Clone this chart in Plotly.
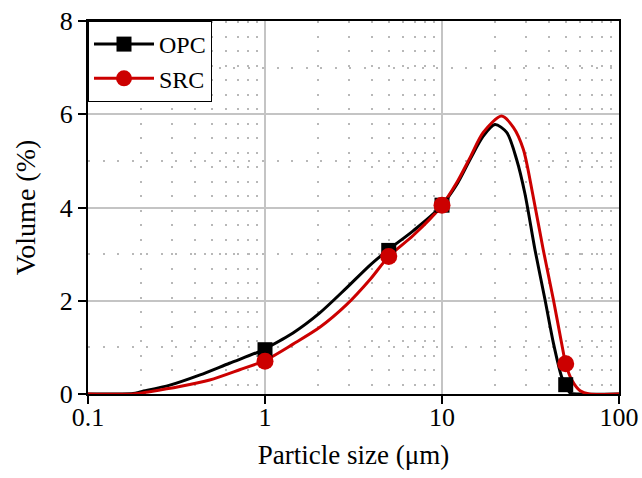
import plotly.graph_objects as go

# OPC curve
opc_x = [0.1, 0.15, 0.18, 0.2, 0.29, 0.43, 0.63, 0.93, 1.0, 1.44, 2.04, 2.88, 3.91, 5.0, 6.87, 9.73,
         12.1, 14.4, 17.1, 19.9, 23.2, 26.4, 29.4, 33.5, 38.2, 42.6, 47.4, 50, 53, 60, 100]
opc_y = [0, 0, 0.01, 0.05, 0.19, 0.41, 0.66, 0.91, 0.97, 1.31, 1.74, 2.27, 2.76, 3.10, 3.50, 4.00,
         4.49, 5.03, 5.53, 5.78, 5.61, 5.03, 4.30, 3.10, 2.02, 1.09, 0.37, 0.19, 0.02, 0, 0]

# SRC curve
src_x = [0.1, 0.18, 0.223, 0.33, 0.487, 0.719, 1.0, 1.44, 2.04, 2.88, 3.91, 5.0, 6.87, 9.73,
         12.1, 14.4, 17.1, 21.7, 25.3, 28.8, 32.5, 37.3, 42.6, 47.4, 50, 54.1, 60.3, 68, 100]
src_y = [0, 0, 0.05, 0.16, 0.30, 0.52, 0.72, 1.07, 1.43, 1.91, 2.45, 2.95, 3.40, 3.99,
         4.53, 5.07, 5.61, 5.96, 5.72, 5.25, 4.30, 3.10, 2.02, 1.09, 0.65, 0.30, 0.07, 0, 0]

# marker points
opc_mx = [1, 5, 10, 50]
opc_my = [0.95, 3.08, 4.05, 0.2]
src_mx = [1, 5, 10, 50]
src_my = [0.7, 2.95, 4.05, 0.65]

RED = "#cc0000"
BLACK = "#000000"
FONT = "Liberation Serif"

fig = go.Figure()
fig.add_trace(go.Scatter(x=opc_x, y=opc_y, mode="lines", line=dict(color=BLACK, width=3, shape="spline", smoothing=0.8),
                         showlegend=False, hoverinfo="skip"))
fig.add_trace(go.Scatter(x=src_x, y=src_y, mode="lines", line=dict(color=RED, width=3, shape="spline", smoothing=0.8),
                         showlegend=False, hoverinfo="skip"))
fig.add_trace(go.Scatter(x=opc_mx, y=opc_my, mode="markers", marker=dict(symbol="square", size=15, color=BLACK),
                         showlegend=False))
fig.add_trace(go.Scatter(x=src_mx, y=src_my, mode="markers", marker=dict(symbol="circle", size=17, color=RED),
                         showlegend=False))
# legend entries
fig.add_trace(go.Scatter(x=[None], y=[None], mode="lines+markers", name="OPC",
                         line=dict(color=BLACK, width=3), marker=dict(symbol="square", size=15, color=BLACK)))
fig.add_trace(go.Scatter(x=[None], y=[None], mode="lines+markers", name="SRC",
                         line=dict(color=RED, width=3), marker=dict(symbol="circle", size=17, color=RED)))

fig.update_layout(
    width=642, height=478,
    margin=dict(l=88, r=23, t=21, b=84, autoexpand=False),
    paper_bgcolor="white", plot_bgcolor="white",
    font=dict(family=FONT, size=26, color="black"),
    showlegend=True,
    legend=dict(x=0, y=1, xanchor="left", yanchor="top", bgcolor="white", bordercolor="black", borderwidth=1,
                font=dict(family=FONT, size=24), itemwidth=60, tracegroupgap=0),
)
fig.update_xaxes(
    type="log", range=[-1, 2], automargin=False,
    tickvals=[0.1, 1, 10, 100], ticktext=["0.1", "1", "10", "100"],
    ticks="outside", ticklen=8, tickwidth=2, tickcolor="black", ticklabelstandoff=-9,
    showline=True, linewidth=2, linecolor="black", mirror=True,
    showgrid=True, gridcolor="#c4c4c4", gridwidth=1.5,
    minor=dict(showgrid=True, gridcolor="#b8b8b8", gridwidth=2, griddash="2px,12.5px",
               tickvals=[0.2, 0.3, 0.4, 0.5, 0.6, 0.7, 0.8, 0.9, 2, 3, 4, 5, 6, 7, 8, 9,
                         20, 30, 40, 50, 60, 70, 80, 90], ticks=""),
    title=dict(text="Particle size (μm)", font=dict(family=FONT, size=27), standoff=14),
    zeroline=False,
)
fig.update_yaxes(
    range=[0, 8], tickvals=[0, 2, 4, 6, 8], automargin=False,
    ticks="outside", ticklen=8, tickwidth=2, tickcolor="black",
    showline=True, linewidth=2, linecolor="black", mirror=True,
    showgrid=True, gridcolor="#c4c4c4", gridwidth=1.5,
    minor=dict(showgrid=True, gridcolor="#b8b8b8", gridwidth=2, griddash="2px,12.5px",
               tickvals=[1, 3, 5, 7], ticks=""),
    title=dict(text="Volume (%)", font=dict(family=FONT, size=28), standoff=16),
    zeroline=False,
)
fig.write_html("out.html")
